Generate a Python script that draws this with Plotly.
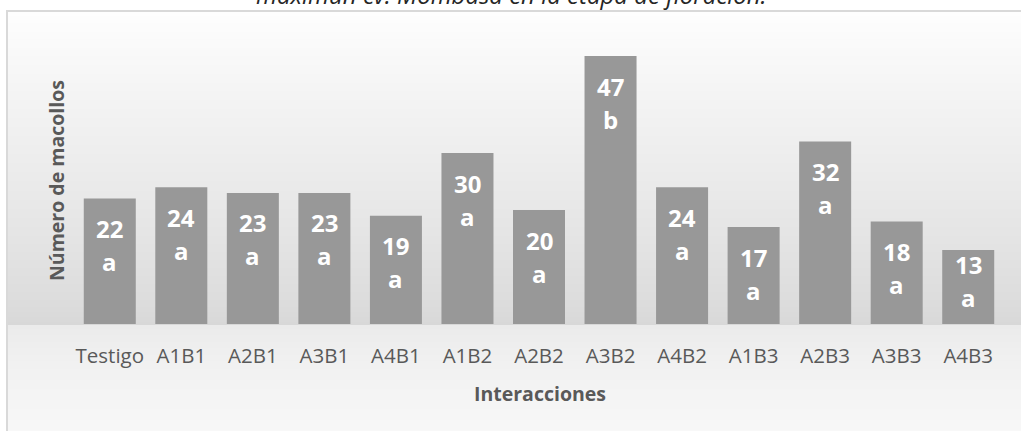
import base64
import struct
import zlib

import plotly.graph_objects as go

# Número de macollos por interacción, con su letra de significancia
categorias = ["Testigo", "A1B1", "A2B1", "A3B1", "A4B1", "A1B2", "A2B2",
              "A3B2", "A4B2", "A1B3", "A2B3", "A3B3", "A4B3"]
macollos = [22, 24, 23, 23, 19, 30, 20, 47, 24, 17, 32, 18, 13]
letras = ["a", "a", "a", "a", "a", "a", "a", "b", "a", "a", "a", "a", "a"]

titulo = "maximun cv. Mombasa en la etapa de floración."
titulo_y = "Número de macollos"
titulo_x = "Interacciones"

# Layout geometry (pixels)
W, H = 1021, 431
ML, MR, MT, MB = 74, 17, 39, 107
PLOT_H = H - MT - MB
Y_MAX = 50
PX_PER_UNIT = PLOT_H / Y_MAX
PLOT_W = W - ML - MR


def px_to_paper_x(px):
    return (px - ML) / PLOT_W


def px_to_paper_y(py):
    return (H - MB - py) / PLOT_H


def gradient_png(stops, height):
    """Build a 1-pixel-wide vertical grey gradient PNG as a data URI."""
    rows = b""
    for y in range(height):
        for (y0, c0), (y1, c1) in zip(stops, stops[1:]):
            if y0 <= y <= y1:
                t = 0 if y1 == y0 else (y - y0) / (y1 - y0)
                g = int(round(c0 + (c1 - c0) * t))
                break
        else:
            g = stops[-1][1]
        rows += b"\x00" + bytes([g, g, g])

    def chunk(tag, data):
        c = struct.pack(">I", len(data)) + tag + data
        return c + struct.pack(">I", zlib.crc32(tag + data) & 0xFFFFFFFF)

    png = b"\x89PNG\r\n\x1a\n"
    png += chunk(b"IHDR", struct.pack(">IIBBBBB", 1, height, 8, 2, 0, 0, 0))
    png += chunk(b"IDAT", zlib.compress(rows))
    png += chunk(b"IEND", b"")
    return "data:image/png;base64," + base64.b64encode(png).decode()


# Chart-area background: light at the top, darker toward the floor,
# lighter again below the category axis
box_top, box_bottom = 11, 445
floor = H - MB
bg_stops = [
    (0, 254),
    (40, 249),
    (120, 240),
    (220, 229),
    (floor - box_top - 20, 220),
    (floor - box_top, 216),
    (floor - box_top + 1, 235),
    (floor - box_top + 40, 241),
    (floor - box_top + 90, 246),
    (box_bottom - box_top, 249),
]
bg_uri = gradient_png(bg_stops, box_bottom - box_top)

fig = go.Figure()
fig.add_trace(go.Bar(
    x=categorias,
    y=macollos,
    marker=dict(color="#989898", line=dict(width=0)),
    width=0.727,
    hoverinfo="skip",
))

label_font = dict(family="Open Sans", size=24, color="white", weight="bold")
annotations = []
for cat, val, let in zip(categorias, macollos, letras):
    bar_px = val * PX_PER_UNIT
    off = min(30, bar_px - 60)
    annotations.append(dict(
        x=cat, y=val, xref="x", yref="y", text=str(val), showarrow=False,
        yanchor="middle", yshift=-off, font=label_font,
    ))
    annotations.append(dict(
        x=cat, y=val, xref="x", yref="y", text=let, showarrow=False,
        yanchor="middle", yshift=-(off + 33), font=label_font,
    ))

annotations.append(dict(
    text=titulo, xref="paper", yref="paper",
    x=px_to_paper_x(511), y=px_to_paper_y(-5),
    xanchor="center", yanchor="middle", showarrow=False,
    font=dict(family="Open Sans", size=24, color="#262626", style="italic"),
))
annotations.append(dict(
    text=titulo_y, xref="paper", yref="paper",
    x=px_to_paper_x(56), y=px_to_paper_y(181),
    xanchor="center", yanchor="middle", textangle=-90, showarrow=False,
    font=dict(family="Open Sans", size=19.5, color="#595959", weight="bold"),
))
annotations.append(dict(
    text=titulo_x, xref="paper", yref="paper",
    x=px_to_paper_x(540), y=px_to_paper_y(393),
    xanchor="center", yanchor="middle", showarrow=False,
    font=dict(family="Open Sans", size=19.5, color="#595959", weight="bold"),
))

fig.update_layout(
    width=W, height=H,
    margin=dict(l=ML, r=MR, t=MT, b=MB, pad=0),
    paper_bgcolor="white",
    plot_bgcolor="rgba(0,0,0,0)",
    showlegend=False,
    annotations=annotations,
    images=[dict(
        source=bg_uri, xref="paper", yref="paper",
        x=px_to_paper_x(7), y=px_to_paper_y(box_top),
        sizex=px_to_paper_x(W + 20) - px_to_paper_x(7),
        sizey=(box_bottom - box_top) / PLOT_H,
        xanchor="left", yanchor="top", sizing="stretch", layer="below",
    )],
    shapes=[dict(
        type="rect", xref="paper", yref="paper",
        x0=px_to_paper_x(7), y0=px_to_paper_y(box_top),
        x1=px_to_paper_x(W + 20), y1=px_to_paper_y(box_bottom),
        line=dict(color="#d9d9d9", width=2), fillcolor="rgba(0,0,0,0)",
        layer="below",
    )],
    xaxis=dict(
        showgrid=False, showline=False, zeroline=False,
        ticks="outside", ticklen=13, tickcolor="rgba(0,0,0,0)",
        tickfont=dict(family="Open Sans", size=20.5, color="#595959"),
        range=[-0.5, len(categorias) - 0.5],
    ),
    yaxis=dict(
        range=[0, Y_MAX], showgrid=False, showline=False, zeroline=False,
        showticklabels=False, ticks="",
    ),
)

fig.write_html("out.html")
